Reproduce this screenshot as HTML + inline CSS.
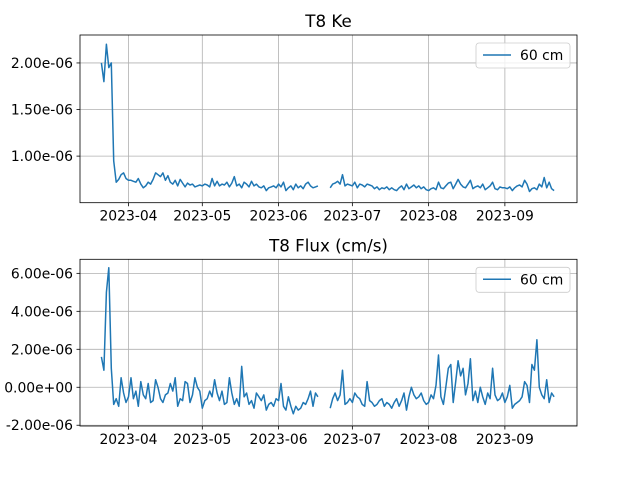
<!DOCTYPE html>
<html><head><meta charset="utf-8"><style>
html,body{margin:0;padding:0;background:#fff}
svg{display:block;font-family:"DejaVu Sans","Liberation Sans",sans-serif}
</style></head><body>
<svg id="fig" width="640" height="480" viewBox="0 0 640 480"></svg>
<script>
// Days since 2023-03-21 (index = day). null = gap in record.
const monthLabels = ["2023-04","2023-05","2023-06","2023-07","2023-08","2023-09"];
const monthDays = [11,41,72,102,133,164];
const keTicks = [1.0,1.5,2.0];
const keTickLabels = ["1.00e-06","1.50e-06","2.00e-06"];
const fluxTicks = [-2,0,2,4,6];
const fluxTickLabels = ["-2.00e-06","0.00e+00","2.00e-06","4.00e-06","6.00e-06"];
const keValues = [2.0,1.8,2.2,1.95,2.0,0.95,0.72,0.75,0.8,0.82,0.76,
0.74,0.74,0.73,0.72,0.76,0.70,0.66,0.68,0.72,0.70,0.75,0.82,0.80,0.78,0.82,0.74,0.79,0.72,0.70,0.74,0.68,0.75,0.71,0.67,0.71,0.69,0.70,0.67,0.68,0.69,
0.68,0.70,0.69,0.67,0.76,0.68,0.73,0.68,0.70,0.69,0.72,0.67,0.71,0.78,0.68,0.70,0.66,0.72,0.70,0.67,0.73,0.68,0.70,0.67,0.66,0.68,0.63,0.66,0.67,0.68,0.66,
0.70,0.67,0.72,0.63,0.66,0.68,0.64,0.70,0.66,0.68,0.65,0.70,0.72,0.68,0.66,0.67,0.68,
null,null,null,null,
0.66,0.70,0.71,0.73,0.70,0.80,0.68,0.70,0.69,
0.68,0.72,0.66,0.70,0.69,0.67,0.70,0.69,0.68,0.65,0.67,0.64,0.66,0.65,0.67,0.64,0.66,0.64,0.63,0.66,0.68,0.64,0.70,0.65,0.67,0.69,0.66,0.68,0.65,0.67,0.64,
0.63,0.65,0.66,0.64,0.72,0.66,0.65,0.68,0.71,0.72,0.65,0.70,0.75,0.70,0.67,0.66,0.70,0.74,0.65,0.67,0.68,0.66,0.70,0.64,0.66,0.68,0.72,0.65,0.64,0.67,0.66,
0.66,0.65,0.67,0.63,0.66,0.68,0.69,0.67,0.74,0.70,0.62,0.65,0.66,0.64,0.70,0.67,0.77,0.66,0.72,0.65,0.63];
const fluxValues = [1.6,0.9,5.0,6.3,1.0,-0.9,-0.6,-1.0,0.5,-0.3,-0.8,
-0.5,0.5,-0.6,-0.2,-1.0,0.3,-0.4,-0.6,0.2,-0.8,-0.7,0.4,0.0,-0.6,-0.8,-0.4,-0.3,0.2,-0.2,0.5,-1.0,-0.6,-0.7,0.3,0.2,-0.8,-0.4,0.5,0.0,-0.2,
-1.1,-0.7,-0.6,-0.2,-0.5,0.4,-0.3,-0.7,-0.2,-0.9,-0.8,0.5,-0.3,-0.9,-0.6,-1.0,1.1,-0.5,-0.3,-0.9,-0.7,-1.1,-0.3,-0.5,-0.7,-0.4,-1.2,-0.9,-0.8,-1.0,-0.6,
-0.7,0.2,-1.0,-1.2,-0.5,-1.0,-1.4,-1.0,-1.2,-1.1,-0.8,-0.9,-0.6,-0.2,-1.0,-0.3,-0.5,
null,null,null,null,
-1.1,-0.6,-0.3,-0.7,-0.4,0.9,-0.9,-0.8,-0.6,
-0.8,-0.3,-0.5,-0.6,-0.9,-1.0,0.3,-0.7,-0.8,-1.0,-0.9,-0.7,-0.6,-1.0,-0.8,-0.9,-1.1,-0.8,-0.6,-1.0,-0.7,-0.3,-1.2,-0.5,0.0,-0.4,-0.6,-0.5,-0.3,-0.7,-0.9,
-0.8,-0.4,-0.6,0.1,1.7,-0.5,-0.9,0.0,1.0,1.2,-0.8,0.3,1.4,0.6,1.0,-0.4,0.2,1.5,-0.7,-0.2,-0.8,0.0,-0.5,-0.9,-0.3,-0.6,1.0,-0.4,-0.7,-0.6,-0.3,
-0.8,-0.5,0.1,-1.1,-0.9,-0.8,-0.7,-0.5,0.3,0.1,-0.8,1.2,0.9,2.5,0.0,-0.4,-0.6,0.4,-0.8,-0.3,-0.5];

const NS="http://www.w3.org/2000/svg";
const svg=document.getElementById('fig');
function mk(tag,attrs,parent,text){const e=document.createElementNS(NS,tag);for(const k in attrs)e.setAttribute(k,attrs[k]);if(text!==undefined)e.textContent=text;(parent||svg).appendChild(e);return e;}
const L=80,R=577;
function xScale(d){return 128.5+(d-11)*2.46;}

function panel(cfg){
  const g=mk('g',{});
  
  
  const yS=v=>cfg.bot-(v-cfg.ymin)/(cfg.ymax-cfg.ymin)*(cfg.bot-cfg.top);
  const grid=mk('g',{},g);
  
  
  monthDays.forEach((d,i)=>{
    const x=xScale(d);
    const ln=mk('line',{x1:x,x2:x,y1:cfg.top,y2:cfg.bot,stroke:'#b0b0b0','stroke-width':0.8},grid);
    
    
    mk('line',{x1:x,x2:x,y1:cfg.bot,y2:cfg.bot+3.5,stroke:'#000','stroke-width':0.8},g);
    const t=mk('text',{x:x,y:cfg.bot+18,'text-anchor':'middle','font-size':13.9,fill:'#000'},g,monthLabels[i]);
    
    
  });
  cfg.ticks.forEach((v,i)=>{
    const y=yS(v);
    const ln=mk('line',{x1:L,x2:R,y1:y,y2:y,stroke:'#b0b0b0','stroke-width':0.8},grid);
    
    
    mk('line',{x1:L-3.5,x2:L,y1:y,y2:y,stroke:'#000','stroke-width':0.8},g);
    const t=mk('text',{x:L-7,y:y+5,'text-anchor':'end','font-size':13.9,fill:'#000'},g,cfg.tickLabels[i]);
    
    
  });
  let d='',pen=false;
  cfg.values.forEach((v,i)=>{
    if(v===null){pen=false;return;}
    d+=(pen?'L':'M')+xScale(i).toFixed(1)+' '+yS(v).toFixed(1);pen=true;
  });
  const p=mk('path',{d:d,fill:'none',stroke:'#1f77b4','stroke-width':1.5,'stroke-linejoin':'round'},g);
  
  
  const fr=mk('rect',{x:L,y:cfg.top,width:R-L,height:cfg.bot-cfg.top,fill:'none',stroke:'#000','stroke-width':0.8},g);
  
  
  const tt=mk('text',{x:(L+R)/2,y:cfg.top-8,'text-anchor':'middle','font-size':16.7,fill:'#000'},g,cfg.title);
  
  
  const lg=mk('g',{},g);
  
  
  mk('rect',{x:476,y:cfg.top+8,width:94,height:25,rx:3,fill:'#fff','fill-opacity':0.8,stroke:'#ccc','stroke-width':0.8},lg);
  mk('line',{x1:483,x2:511,y1:cfg.top+20,y2:cfg.top+20,stroke:'#1f77b4','stroke-width':1.5},lg);
  const lt=mk('text',{x:520,y:cfg.top+25,'font-size':13.9,fill:'#000'},lg,'60 cm');
  
  
}
panel({name:'ke-panel',title:'T8 Ke',top:35,bot:202.7,ymin:0.5,ymax:2.30,values:keValues,ticks:keTicks,tickLabels:keTickLabels});
panel({name:'flux-panel',title:'T8 Flux (cm/s)',top:259.3,bot:426,ymin:-2.04,ymax:6.74,values:fluxValues,ticks:fluxTicks,tickLabels:fluxTickLabels});
</script>
</body></html>
